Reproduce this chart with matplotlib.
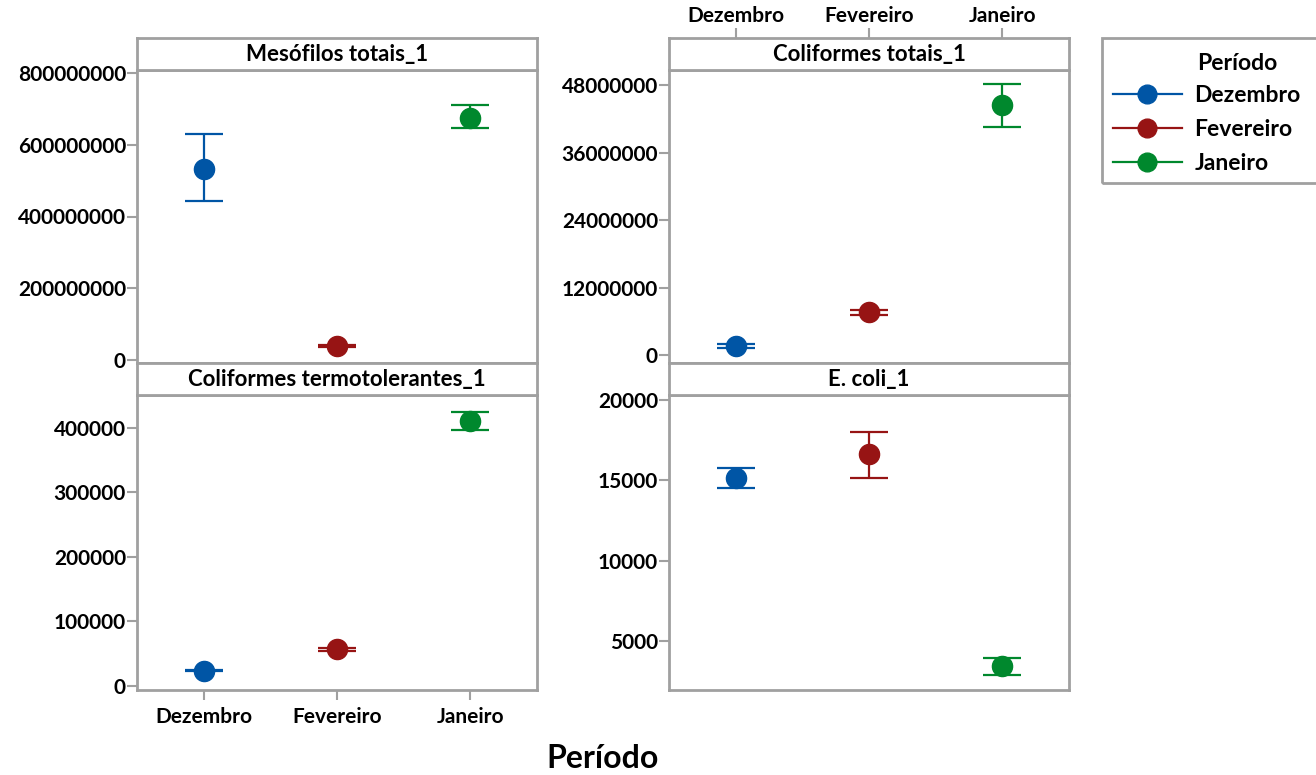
import matplotlib
matplotlib.use("Agg")
import matplotlib.pyplot as plt
from matplotlib.lines import Line2D
from matplotlib.patches import Rectangle

plt.rcParams['font.family'] = ['Lato', 'DejaVu Sans']
plt.rcParams['font.weight'] = 'bold'

periods = ["Dezembro", "Fevereiro", "Janeiro"]
colors = ["#0055A5", "#971414", "#00882D"]

panel_titles = ["Mesófilos totais_1", "Coliformes totais_1",
                "Coliformes termotolerantes_1", "E. coli_1"]

meso_mean = [532e6, 39e6, 674e6]
meso_low = [443e6, 36e6, 647e6]
meso_high = [630e6, 42e6, 711e6]

colt_mean = [1.6e6, 7.6e6, 44.4e6]
colt_low = [1.3e6, 7.1e6, 40.5e6]
colt_high = [1.9e6, 8.1e6, 48.2e6]

term_mean = [24e3, 57e3, 411e3]
term_low = [23e3, 55e3, 397e3]
term_high = [25e3, 59e3, 425e3]

ecoli_mean = [15120, 16640, 3440]
ecoli_low = [14500, 15120, 2880]
ecoli_high = [15750, 18000, 3940]

yticks = [
    [0, 200000000, 400000000, 600000000, 800000000],
    [0, 12000000, 24000000, 36000000, 48000000],
    [0, 100000, 200000, 300000, 400000],
    [5000, 10000, 15000, 20000],
]
ylims = [(-8e6, 808e6), (-1.4e6, 50.7e6), (-6.2e3, 451e3), (1940, 20310)]

data = [
    (meso_mean, meso_low, meso_high),
    (colt_mean, colt_low, colt_high),
    (term_mean, term_low, term_high),
    (ecoli_mean, ecoli_low, ecoli_high),
]

W, H = 1316, 775
fig = plt.figure(figsize=(W / 100, H / 100), dpi=100)
gray = "#A0A0A0"
TICK_FS = 15

def fx(px):
    return px / W

def fy(py):
    return 1 - py / H

lefts = [137, 669]
width = 400
rows = [(38, 70, 363), (363, 395, 690)]  # strip top, plot top, plot bottom

for i in range(4):
    r, c = divmod(i, 2)
    st, pt, pb = rows[r]
    L = lefts[c]
    ax = fig.add_axes([fx(L), fy(pb), width / W, (pb - pt) / H])
    sax = fig.add_axes([fx(L), fy(pt), width / W, (pt - st) / H])
    means, lows, highs = data[i]
    for k in range(3):
        ax.errorbar([k], [means[k]],
                    yerr=[[means[k] - lows[k]], [highs[k] - means[k]]],
                    fmt='o', color=colors[k], markersize=14.5, elinewidth=1.6,
                    capsize=14, capthick=1.6, zorder=3)
    ax.set_xlim(-0.5, 2.5)
    ax.set_ylim(*ylims[i])
    ax.set_yticks(yticks[i])
    ax.set_yticklabels([str(v) for v in yticks[i]])
    ax.set_xticks(range(3))
    for ax_ in (ax, sax):
        for s in ax_.spines.values():
            s.set_color(gray)
            s.set_linewidth(2)
    ax.tick_params(axis='y', colors=gray, length=7, width=1.5, labelcolor='black',
                   labelsize=TICK_FS, pad=1)
    ax.tick_params(axis='x', colors=gray, length=7, width=1.5, labelcolor='black',
                   labelsize=TICK_FS, pad=5)
    if i != 2:
        ax.tick_params(axis='x', bottom=False, labelbottom=False)
    else:
        ax.set_xticklabels(periods)
    sax.set_xlim(-0.5, 2.5)
    sax.set_yticks([])
    sax.set_xticks([])
    sax.text(0.5, 0.48, panel_titles[i], transform=sax.transAxes, ha='center',
             va='center', fontsize=16, fontweight='bold')
    if i == 1:
        sax.xaxis.tick_top()
        sax.set_xticks(range(3))
        sax.set_xticklabels(periods)
        sax.tick_params(axis='x', colors=gray, length=7, width=1.5,
                        labelcolor='black', labelsize=TICK_FS, pad=2)

fig.text(fx(603), fy(758), "Período", ha='center', va='center', fontsize=23,
         fontweight='bold')

# legend
fig.add_artist(Rectangle((fx(1102), fy(183)), fx(1340) - fx(1102), (183 - 38) / H,
                         transform=fig.transFigure, fill=False, edgecolor=gray,
                         linewidth=2, clip_on=False))
fig.text(fx(1197), fy(63), "Período", ha='left', va='center', fontsize=16.5,
         fontweight='bold')
handles = [Line2D([0], [0], color=colors[k], lw=1.6, marker='o', markersize=13.5)
           for k in range(3)]
fig.legend(handles, periods, loc='upper left',
           bbox_to_anchor=(fx(1113), fy(85)), frameon=False, fontsize=16.5,
           handlelength=3.0, handletextpad=0.55, labelspacing=0.56,
           borderaxespad=0, borderpad=0)

fig.savefig("out.png", dpi=100)
